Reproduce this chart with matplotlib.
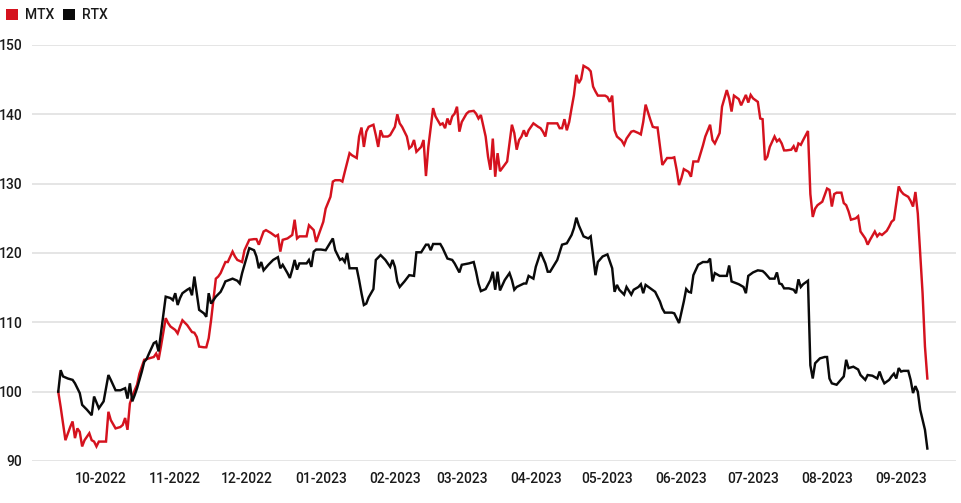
import matplotlib
matplotlib.use("Agg")
import matplotlib.pyplot as plt
import matplotlib.dates as mdates
from matplotlib.patches import Patch
import pandas as pd

# ---------------- data (indexed performance, start = 100) ----------------
series_names = ["MTX", "RTX"]

mtx_dates = [
    "2022-09-13", "2022-09-14", "2022-09-16", "2022-09-18", "2022-09-19", "2022-09-20", "2022-09-21",
    "2022-09-22", "2022-09-23", "2022-09-24", "2022-09-25", "2022-09-26", "2022-09-27", "2022-09-28",
    "2022-09-29", "2022-09-30", "2022-10-03", "2022-10-04", "2022-10-05", "2022-10-07", "2022-10-09",
    "2022-10-10", "2022-10-11", "2022-10-12", "2022-10-13", "2022-10-14", "2022-10-15", "2022-10-16",
    "2022-10-17", "2022-10-19", "2022-10-21", "2022-10-23", "2022-10-24", "2022-10-25", "2022-10-26",
    "2022-10-28", "2022-10-29", "2022-10-30", "2022-11-01", "2022-11-02", "2022-11-03", "2022-11-04",
    "2022-11-06", "2022-11-08", "2022-11-09", "2022-11-10", "2022-11-11", "2022-11-13", "2022-11-14",
    "2022-11-15", "2022-11-16", "2022-11-18", "2022-11-19", "2022-11-20", "2022-11-22", "2022-11-23",
    "2022-11-25", "2022-11-26", "2022-11-27", "2022-11-29", "2022-11-30", "2022-12-02", "2022-12-04",
    "2022-12-05", "2022-12-06", "2022-12-08", "2022-12-09", "2022-12-11", "2022-12-13", "2022-12-14",
    "2022-12-15", "2022-12-16", "2022-12-18", "2022-12-20", "2022-12-21", "2022-12-22", "2022-12-23",
    "2022-12-26", "2022-12-27", "2022-12-29", "2022-12-30", "2023-01-02", "2023-01-03", "2023-01-05",
    "2023-01-06", "2023-01-07", "2023-01-09", "2023-01-10", "2023-01-11", "2023-01-13", "2023-01-14",
    "2023-01-15", "2023-01-16", "2023-01-17", "2023-01-18", "2023-01-19", "2023-01-20", "2023-01-21",
    "2023-01-23", "2023-01-24", "2023-01-25", "2023-01-26", "2023-01-27", "2023-01-29", "2023-01-30",
    "2023-02-01", "2023-02-02", "2023-02-03", "2023-02-04", "2023-02-05", "2023-02-06", "2023-02-07",
    "2023-02-08", "2023-02-09", "2023-02-10", "2023-02-12", "2023-02-13", "2023-02-14", "2023-02-15",
    "2023-02-17", "2023-02-18", "2023-02-20", "2023-02-21", "2023-02-22", "2023-02-23", "2023-02-24",
    "2023-02-25", "2023-02-26", "2023-02-27", "2023-02-28", "2023-03-01", "2023-03-03", "2023-03-04",
    "2023-03-06", "2023-03-07", "2023-03-08", "2023-03-09", "2023-03-11", "2023-03-12", "2023-03-13",
    "2023-03-14", "2023-03-15", "2023-03-16", "2023-03-17", "2023-03-20", "2023-03-21", "2023-03-22",
    "2023-03-23", "2023-03-24", "2023-03-25", "2023-03-26", "2023-03-27", "2023-03-28", "2023-03-29",
    "2023-03-31", "2023-04-02", "2023-04-03", "2023-04-04", "2023-04-05", "2023-04-06", "2023-04-07",
    "2023-04-10", "2023-04-11", "2023-04-12", "2023-04-13", "2023-04-14", "2023-04-15", "2023-04-16",
    "2023-04-17", "2023-04-18", "2023-04-19", "2023-04-20", "2023-04-21", "2023-04-23", "2023-04-24",
    "2023-04-25", "2023-04-26", "2023-04-27", "2023-04-30", "2023-05-01", "2023-05-02", "2023-05-03",
    "2023-05-04", "2023-05-05", "2023-05-07", "2023-05-08", "2023-05-09", "2023-05-11", "2023-05-12",
    "2023-05-14", "2023-05-15", "2023-05-16", "2023-05-17", "2023-05-19", "2023-05-20", "2023-05-21",
    "2023-05-22", "2023-05-24", "2023-05-26", "2023-05-28", "2023-05-29", "2023-05-30", "2023-05-31",
    "2023-06-01", "2023-06-02", "2023-06-04", "2023-06-05", "2023-06-06", "2023-06-08", "2023-06-10",
    "2023-06-11", "2023-06-13", "2023-06-14", "2023-06-15", "2023-06-17", "2023-06-18", "2023-06-20",
    "2023-06-21", "2023-06-22", "2023-06-23", "2023-06-25", "2023-06-26", "2023-06-28", "2023-06-29",
    "2023-06-30", "2023-07-01", "2023-07-03", "2023-07-04", "2023-07-05", "2023-07-06", "2023-07-07",
    "2023-07-08", "2023-07-10", "2023-07-11", "2023-07-12", "2023-07-13", "2023-07-14", "2023-07-15",
    "2023-07-17", "2023-07-18", "2023-07-19", "2023-07-20", "2023-07-21", "2023-07-22", "2023-07-24",
    "2023-07-25", "2023-07-26", "2023-07-27", "2023-07-28", "2023-07-30", "2023-08-01", "2023-08-02",
    "2023-08-03", "2023-08-04", "2023-08-05", "2023-08-07", "2023-08-08", "2023-08-09", "2023-08-10",
    "2023-08-11", "2023-08-13", "2023-08-14", "2023-08-15", "2023-08-17", "2023-08-18", "2023-08-19",
    "2023-08-21", "2023-08-22", "2023-08-23", "2023-08-24", "2023-08-26", "2023-08-27", "2023-08-28",
    "2023-08-29", "2023-08-30", "2023-08-31", "2023-09-01", "2023-09-02", "2023-09-04", "2023-09-05",
    "2023-09-06", "2023-09-07", "2023-09-08", "2023-09-10", "2023-09-11", "2023-09-12",
]
mtx_values = [
    100.0, 97.8, 93.0, 94.9, 95.7, 93.3, 94.7,
    94.2, 92.1, 93.0, 93.5, 94.0, 93.0, 92.8,
    92.1, 92.8, 92.8, 97.1, 95.9, 94.7, 94.9,
    95.2, 96.2, 94.5, 98.3, 99.3, 100.2, 101.0,
    102.6, 104.6, 104.8, 105.0, 105.5, 104.6, 106.5,
    110.6, 109.9, 109.4, 108.9, 108.4, 109.4, 110.3,
    109.6, 108.6, 108.5, 107.9, 106.5, 106.4, 106.4,
    107.7, 110.3, 116.3, 116.6, 117.1, 118.7, 118.7,
    120.2, 119.5, 119.0, 118.7, 120.4, 121.9, 122.0,
    122.0, 121.2, 123.1, 123.3, 122.9, 122.4, 122.6,
    120.2, 121.9, 122.1, 122.6, 124.8, 122.1, 122.4,
    122.4, 124.0, 123.3, 121.6, 124.5, 126.4, 128.1,
    130.3, 130.5, 130.5, 130.3, 131.7, 134.4, 134.1,
    133.9, 133.7, 136.8, 138.1, 135.3, 137.5, 138.2,
    138.5, 137.0, 135.3, 137.7, 136.8, 136.8, 137.0,
    138.2, 140.0, 138.7, 138.2, 137.5, 136.8, 135.1,
    135.4, 136.3, 134.6, 135.3, 136.3, 131.1, 135.3,
    140.9, 139.7, 138.5, 138.7, 138.0, 139.4, 138.5,
    139.7, 140.1, 141.1, 137.5, 138.9, 140.1, 140.4,
    140.5, 140.1, 139.4, 139.9, 136.8, 133.9, 132.0,
    136.5, 131.0, 134.4, 131.8, 133.2, 135.8, 138.5,
    137.3, 134.9, 136.3, 136.8, 137.7, 136.8, 137.7,
    138.7, 138.2, 138.0, 137.5, 136.8, 138.7, 138.7,
    138.7, 138.0, 138.0, 139.3, 137.7, 138.9, 140.9,
    142.8, 145.7, 144.5, 145.1, 147.0, 146.6, 146.2,
    144.0, 143.3, 142.7, 142.7, 142.5, 141.8, 142.7,
    137.7, 136.8, 136.2, 135.6, 136.5, 137.5, 137.6,
    137.3, 137.1, 138.9, 141.4, 139.2, 138.2, 138.1,
    138.1, 132.7, 133.7, 133.7, 133.8, 132.0, 129.8,
    130.8, 132.1, 131.7, 131.0, 133.2, 133.2, 135.5,
    136.8, 138.5, 136.3, 135.8, 137.3, 141.1, 143.5,
    142.3, 140.4, 142.7, 142.2, 141.3, 142.8, 141.7,
    142.8, 142.3, 141.8, 139.4, 139.3, 133.4, 133.9,
    135.3, 136.8, 136.1, 136.4, 135.8, 134.8, 134.8,
    134.9, 135.4, 134.6, 135.8, 135.6, 136.3, 137.6,
    128.5, 125.2, 126.4, 126.9, 127.4, 129.3, 129.1,
    126.7, 128.5, 128.7, 128.7, 127.2, 126.9, 126.0,
    124.8, 125.0, 125.3, 123.1, 122.1, 121.2, 121.9,
    123.1, 122.4, 122.8, 122.6, 123.2, 123.8, 124.5,
    124.8, 127.2, 129.6, 128.9, 128.5, 128.1, 127.5,
    126.7, 128.8, 125.7, 114.2, 106.5, 101.9,
]

rtx_dates = [
    "2022-09-13", "2022-09-14", "2022-09-15", "2022-09-17", "2022-09-19", "2022-09-20", "2022-09-22",
    "2022-09-23", "2022-09-25", "2022-09-27", "2022-09-28", "2022-09-30", "2022-10-02", "2022-10-04",
    "2022-10-05", "2022-10-07", "2022-10-09", "2022-10-11", "2022-10-12", "2022-10-13", "2022-10-14",
    "2022-10-15", "2022-10-16", "2022-10-18", "2022-10-19", "2022-10-20", "2022-10-21", "2022-10-23",
    "2022-10-24", "2022-10-25", "2022-10-26", "2022-10-28", "2022-10-30", "2022-10-31", "2022-11-01",
    "2022-11-02", "2022-11-03", "2022-11-04", "2022-11-06", "2022-11-07", "2022-11-08", "2022-11-09",
    "2022-11-11", "2022-11-13", "2022-11-14", "2022-11-15", "2022-11-16", "2022-11-18", "2022-11-20",
    "2022-11-21", "2022-11-22", "2022-11-25", "2022-11-27", "2022-11-28", "2022-11-29", "2022-12-01",
    "2022-12-02", "2022-12-04", "2022-12-05", "2022-12-06", "2022-12-07", "2022-12-08", "2022-12-10",
    "2022-12-12", "2022-12-14", "2022-12-15", "2022-12-16", "2022-12-18", "2022-12-19", "2022-12-20",
    "2022-12-21", "2022-12-22", "2022-12-23", "2022-12-26", "2022-12-27", "2022-12-28", "2022-12-29",
    "2022-12-30", "2023-01-01", "2023-01-03", "2023-01-06", "2023-01-07", "2023-01-09", "2023-01-10",
    "2023-01-11", "2023-01-12", "2023-01-13", "2023-01-16", "2023-01-17", "2023-01-18", "2023-01-19",
    "2023-01-20", "2023-01-21", "2023-01-23", "2023-01-24", "2023-01-26", "2023-01-28", "2023-01-30",
    "2023-01-31", "2023-02-01", "2023-02-02", "2023-02-03", "2023-02-05", "2023-02-07", "2023-02-09",
    "2023-02-10", "2023-02-12", "2023-02-14", "2023-02-15", "2023-02-16", "2023-02-17", "2023-02-20",
    "2023-02-21", "2023-02-23", "2023-02-25", "2023-02-26", "2023-02-28", "2023-03-01", "2023-03-04",
    "2023-03-06", "2023-03-07", "2023-03-08", "2023-03-09", "2023-03-11", "2023-03-13", "2023-03-14",
    "2023-03-15", "2023-03-16", "2023-03-17", "2023-03-19", "2023-03-21", "2023-03-22", "2023-03-23",
    "2023-03-24", "2023-03-27", "2023-03-28", "2023-03-29", "2023-03-31", "2023-04-01", "2023-04-03",
    "2023-04-05", "2023-04-06", "2023-04-07", "2023-04-10", "2023-04-12", "2023-04-14", "2023-04-16",
    "2023-04-17", "2023-04-18", "2023-04-19", "2023-04-21", "2023-04-23", "2023-04-24", "2023-04-26",
    "2023-04-27", "2023-04-29", "2023-05-01", "2023-05-03", "2023-05-04", "2023-05-05", "2023-05-06",
    "2023-05-08", "2023-05-09", "2023-05-11", "2023-05-12", "2023-05-14", "2023-05-15", "2023-05-16",
    "2023-05-17", "2023-05-19", "2023-05-21", "2023-05-23", "2023-05-24", "2023-05-25", "2023-05-28",
    "2023-05-29", "2023-05-31", "2023-06-02", "2023-06-03", "2023-06-04", "2023-06-05", "2023-06-06",
    "2023-06-08", "2023-06-10", "2023-06-12", "2023-06-13", "2023-06-14", "2023-06-15", "2023-06-17",
    "2023-06-20", "2023-06-21", "2023-06-22", "2023-06-25", "2023-06-27", "2023-06-28", "2023-06-29",
    "2023-07-01", "2023-07-03", "2023-07-05", "2023-07-06", "2023-07-08", "2023-07-10", "2023-07-11",
    "2023-07-12", "2023-07-13", "2023-07-14", "2023-07-16", "2023-07-18", "2023-07-19", "2023-07-20",
    "2023-07-21", "2023-07-22", "2023-07-24", "2023-07-25", "2023-07-26", "2023-07-27", "2023-07-29",
    "2023-07-31", "2023-08-01", "2023-08-02", "2023-08-03", "2023-08-05", "2023-08-06", "2023-08-08",
    "2023-08-09", "2023-08-10", "2023-08-12", "2023-08-14", "2023-08-15", "2023-08-17", "2023-08-18",
    "2023-08-20", "2023-08-22", "2023-08-23", "2023-08-24", "2023-08-25", "2023-08-27", "2023-08-28",
    "2023-08-29", "2023-08-30", "2023-08-31", "2023-09-01", "2023-09-02", "2023-09-04", "2023-09-05",
    "2023-09-06", "2023-09-07", "2023-09-08", "2023-09-09", "2023-09-11", "2023-09-12",
]
rtx_values = [
    100.0, 103.1, 102.2, 101.9, 101.7, 101.2, 99.8,
    98.1, 97.4, 96.6, 99.3, 97.6, 98.6, 102.4,
    101.7, 100.2, 100.2, 100.5, 99.0, 101.2, 98.6,
    99.5, 100.5, 102.9, 104.3, 104.7, 105.5, 107.0,
    107.2, 105.8, 108.4, 113.7, 113.5, 113.2, 114.2,
    112.5, 113.5, 114.2, 114.7, 114.9, 113.9, 116.6,
    111.8, 111.3, 110.8, 114.2, 112.7, 113.7, 114.4,
    115.1, 115.9, 116.3, 116.0, 115.6, 117.1, 119.5,
    120.7, 120.4, 119.5, 117.8, 118.7, 117.5, 118.3,
    119.0, 119.4, 117.8, 118.3, 117.1, 116.4, 117.6,
    119.0, 117.6, 118.5, 118.5, 119.0, 118.0, 120.2,
    120.5, 120.5, 120.4, 122.1, 120.4, 119.0, 119.2,
    118.7, 120.0, 117.8, 117.8, 116.1, 114.2, 112.5,
    112.7, 113.6, 114.8, 119.0, 119.7, 119.0, 118.0,
    119.0, 118.0, 115.9, 115.1, 115.9, 116.8, 116.7,
    120.1, 120.1, 121.2, 121.2, 120.4, 121.3, 121.3,
    120.7, 119.2, 119.0, 118.5, 117.2, 118.3, 118.5,
    118.7, 117.3, 115.6, 114.5, 114.8, 116.1, 117.3,
    114.7, 117.3, 114.6, 116.1, 117.1, 116.1, 114.7,
    115.1, 115.6, 115.6, 116.7, 116.3, 118.0, 120.1,
    118.5, 117.3, 117.3, 119.0, 121.2, 121.4, 122.6,
    123.6, 125.1, 124.0, 122.4, 122.1, 122.4, 116.8,
    118.7, 119.5, 119.8, 117.8, 114.4, 115.4, 114.7,
    114.0, 115.1, 114.0, 114.7, 115.1, 115.5, 114.2,
    115.4, 114.9, 114.4, 113.0, 112.0, 111.4, 111.4,
    111.3, 109.9, 113.0, 114.8, 114.4, 114.3, 116.8,
    118.3, 118.7, 118.7, 119.2, 115.9, 117.1, 116.7,
    116.7, 118.2, 115.9, 115.5, 115.1, 114.2, 116.7,
    117.2, 117.5, 117.4, 117.1, 116.3, 116.3, 117.2,
    115.6, 115.5, 114.9, 114.9, 114.7, 114.2, 116.2,
    115.1, 115.5, 116.0, 103.8, 101.9, 104.1, 104.8,
    105.0, 105.0, 101.9, 101.2, 101.0, 101.4, 102.2,
    104.6, 103.4, 103.6, 103.2, 102.4, 101.7, 102.4,
    102.3, 101.9, 102.9, 101.9, 101.2, 101.7, 102.2,
    102.6, 101.9, 103.4, 102.9, 103.0, 103.0, 101.7,
    99.8, 100.8, 100.0, 97.4, 94.5, 91.8,
]

y_ticks = [90, 100, 110, 120, 130, 140, 150]
x_tick_dates = ["2022-10-01", "2022-11-01", "2022-12-01", "2023-01-01", "2023-02-01", "2023-03-01",
                "2023-04-01", "2023-05-01", "2023-06-01", "2023-07-01", "2023-08-01", "2023-09-01"]

# ---------------- style ----------------
RED = "#d5121e"
BLACK = "#0a0a0a"
GRID = "#dedede"
TEXT = "#1a1a1a"
FONT = ["Roboto", "DejaVu Sans"]
plt.rcParams["font.family"] = FONT
plt.rcParams["font.weight"] = "medium"

W, H = 962, 503
fig = plt.figure(figsize=(W / 100, H / 100), dpi=100)
fig.patch.set_facecolor("white")
ax = fig.add_axes([32 / W, 1 - 461 / H, 924 / W, (461 - 45) / H])

mtx = pd.Series(mtx_values, index=pd.to_datetime(mtx_dates))
rtx = pd.Series(rtx_values, index=pd.to_datetime(rtx_dates))

ax.plot(mtx.index, mtx.values, color=RED, lw=1.75, solid_joinstyle="miter", zorder=3)
ax.plot(rtx.index, rtx.values, color=BLACK, lw=1.75, solid_joinstyle="miter", zorder=4)

ax.set_ylim(90, 150)
ax.set_xlim(pd.Timestamp("2022-09-02"), pd.Timestamp("2023-09-24"))
ax.set_yticks(y_ticks)
ax.set_yticklabels([str(v) for v in y_ticks])
ax.set_xticks(pd.to_datetime(x_tick_dates))
ax.xaxis.set_major_formatter(mdates.DateFormatter("%m-%Y"))

ax.grid(axis="y", color=GRID, lw=1.1, zorder=0)
ax.grid(axis="x", visible=False)
for s in ax.spines.values():
    s.set_visible(False)
ax.tick_params(axis="both", length=0, labelsize=10, colors=TEXT)
ax.tick_params(axis="y", pad=7)
ax.tick_params(axis="x", pad=8)
ax.set_facecolor("white")

handles = [Patch(facecolor=RED, edgecolor="none"), Patch(facecolor=BLACK, edgecolor="none")]
fig.legend(handles, series_names, loc="upper left", bbox_to_anchor=(6 / W, 1 - 8 / H),
           ncol=2, frameon=False, fontsize=10, handlelength=0.85, handleheight=0.85,
           handletextpad=0.55, columnspacing=0.6, borderpad=0, borderaxespad=0,
           labelcolor=TEXT)

fig.savefig("out.png", dpi=100, facecolor="white")
